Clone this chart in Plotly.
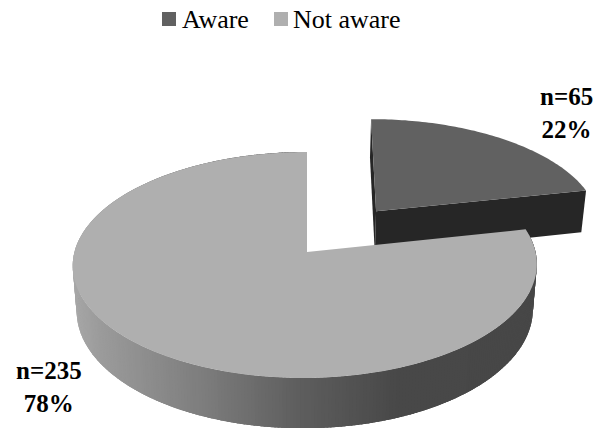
import numpy as np
import plotly.graph_objects as go

# Survey counts
categories = ["Aware", "Not aware"]
counts = [65, 235]
top_colors = ["#616161", "#afafaf"]
side_color_aware = "#262626"

# Oblique projection of the pie disc
CX, CY = 305.0, 252.0
APEX_X = 307.0
SKEW = -2.0
RADIUS, TILT, PERSPECTIVE = 230.5, 111.5, 0.115
THICKNESS, TAPER = 44.5, 0.983
EXPLODE = 0.49
EXPLODE_NUDGE = 0.01

# Grey of the lit rim as it runs left to right
rim_x = [70, 100, 200, 300, 400, 540]
rim_grey = [168, 155, 126, 94, 72, 71]

# Key above the pie: swatch centre and text start for each category
key_swatch_x = [169, 281]
key_text_x = [182, 293]
KEY_Y = 19


def project(u, v, lower=False):
    scale = 1.0 / (1.0 - PERSPECTIVE * v)
    x = CX + SKEW * v + RADIUS * u * scale
    y = CY + TILT * v * scale
    if lower:
        x = CX + (x - CX) * TAPER
        y = y + THICKNESS * scale
    return x, y


def rim(theta, off_u=0.0, off_v=0.0, lower=False):
    return project(off_u + np.sin(theta), off_v - np.cos(theta), lower)


def add_poly(fig, xs, ys, color):
    fig.add_trace(go.Scatter(
        x=list(xs), y=list(ys), mode="none", fill="toself", fillcolor=color,
        hoverinfo="skip", showlegend=False,
    ))


total = sum(counts)
split = 2 * np.pi * counts[0] / total
mid = split / 2
off_u = EXPLODE * np.sin(mid) + EXPLODE_NUDGE
off_v = -EXPLODE * np.cos(mid)

fig = go.Figure()

# Exploded "Aware" wedge: two cut faces, then its top
for angle in (0.0, split):
    x0, y0 = project(off_u, off_v)
    x1, y1 = rim(angle, off_u, off_v)
    x2, y2 = rim(angle, off_u, off_v, lower=True)
    x3, y3 = project(off_u, off_v, lower=True)
    add_poly(fig, [x0, x1, x2, x3, x0], [y0, y1, y2, y3, y0], side_color_aware)

arc = np.linspace(0, split, 80)
ax, ay = rim(arc, off_u, off_v)
px, py = project(off_u, off_v)
add_poly(fig, [px, *ax, px], [py, *ay, py], top_colors[0])

# "Not aware" rim, painted strip over strip so no seams show
edges = np.linspace(split, 2 * np.pi, 361)
step = edges[1] - edges[0]
for a in edges[:-1]:
    b = min(a + 2.5 * step, 2 * np.pi)
    xa, ya = rim(a)
    xb, yb = rim(b)
    xc, yc = rim(b, lower=True)
    xd, yd = rim(a, lower=True)
    g = int(round(np.interp(xa, rim_x, rim_grey)))
    add_poly(fig, [xa, xb, xc, xd, xa], [ya, yb, yc, yd, ya], f"rgb({g},{g},{g})")

# "Not aware" top face
arc = np.linspace(split, 2 * np.pi, 240)
ax, ay = rim(arc)
add_poly(fig, [APEX_X, *ax, APEX_X], [CY, *ay, CY], top_colors[1])

# Key: one square swatch and one text per category
for name, color, sx, tx in zip(categories, top_colors, key_swatch_x, key_text_x):
    fig.add_trace(go.Scatter(
        x=[sx], y=[KEY_Y], mode="markers", name=name, showlegend=False,
        marker=dict(symbol="square", size=14, color=color), hoverinfo="skip",
    ))
    fig.add_annotation(
        x=tx, y=KEY_Y, xref="x", yref="y", showarrow=False, xanchor="left",
        xshift=-2, text=name,
        font=dict(family="Liberation Serif", size=26, color="#000000"),
    )

# Value labels
label_spots = [(566, 113), (48.5, 387)]
for n, (lx, ly) in zip(counts, label_spots):
    fig.add_annotation(
        x=lx, y=ly, xref="x", yref="y", showarrow=False,
        text=f"<b>n={n}<br>{round(100 * n / total)}%</b>",
        font=dict(family="Liberation Serif", size=25, color="#000000"),
        align="center",
    )

fig.update_layout(
    width=596, height=428, margin=dict(l=0, r=0, t=0, b=0),
    paper_bgcolor="#ffffff", plot_bgcolor="#ffffff",
    xaxis=dict(range=[0, 596], visible=False, fixedrange=True),
    yaxis=dict(range=[428, 0], visible=False, fixedrange=True),
    showlegend=False,
)

fig.write_html("out.html")
